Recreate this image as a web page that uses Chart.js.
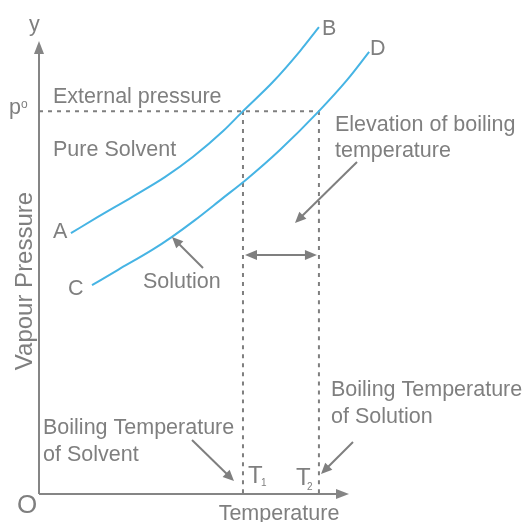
<!DOCTYPE html>
<html><head><meta charset="utf-8">
<script src="https://cdn.jsdelivr.net/npm/chart.js@4"></script>
<style>html,body{margin:0;padding:0;background:#fff}#wrap{width:524px;height:522px}</style>
</head><body><div id="wrap"><canvas id="c" width="524" height="522"></canvas></div>
<script>
// Temperature (x) and vapour pressure (y) in arbitrary units, 0..100 along the drawn axes
const pureSolventT = [10.3, 19.0, 30.0, 40.6, 49.7, 59.4, 65.8, 75.5, 84.2, 90.3];
const pureSolventP = [57.7, 61.3, 65.7, 70.1, 74.6, 80.3, 84.7, 91.2, 98.0, 103.3];
const solutionT = [17.1, 25.5, 36.5, 42.9, 50.3, 59.0, 67.1, 77.7, 90.3, 99.4, 106.5];
const solutionP = [46.2, 49.6, 54.0, 56.9, 60.6, 65.3, 69.7, 76.1, 84.7, 91.6, 97.8];
const externalPressure = 84.7;   // p°
const boilingT1 = 65.8;          // pure solvent boils
const boilingT2 = 90.3;          // solution boils
const axisMax = 100;

const BLUE = '#46b4e4';
const GREY = '#7f7f7f';
const AXIS = '#858585';

const toPts = (xs, ys) => xs.map((x, i) => ({x, y: ys[i]}));

const lineDS = (data, color, width, dash) => ({
  data, showLine: true, borderColor: color, borderWidth: width, borderDash: dash || [],
  pointRadius: 0, fill: false, clip: false, cubicInterpolationMode: 'monotone'
});

function arrowHead(ctx, fx, fy, tx, ty, len, hw) {
  const a = Math.atan2(ty - fy, tx - fx);
  ctx.beginPath();
  ctx.moveTo(tx, ty);
  ctx.lineTo(tx - len * Math.cos(a) + hw * Math.sin(a), ty - len * Math.sin(a) - hw * Math.cos(a));
  ctx.lineTo(tx - len * Math.cos(a) - hw * Math.sin(a), ty - len * Math.sin(a) + hw * Math.cos(a));
  ctx.closePath();
  ctx.fill();
}
function arrow(ctx, fx, fy, tx, ty) {
  const a = Math.atan2(ty - fy, tx - fx);
  ctx.beginPath();
  ctx.moveTo(fx, fy);
  ctx.lineTo(tx - 6 * Math.cos(a), ty - 6 * Math.sin(a));
  ctx.stroke();
  arrowHead(ctx, fx, fy, tx, ty, 11, 5);
}

const annotations = {
  id: 'annotations',
  afterDraw(chart) {
    const ctx = chart.ctx;
    const xs = chart.scales.x, ys = chart.scales.y;
    const X = v => xs.getPixelForValue(v), Y = v => ys.getPixelForValue(v);
    ctx.save();
    // axis arrowheads
    ctx.fillStyle = AXIS;
    arrowHead(ctx, X(0), Y(0), X(0), Y(axisMax) - 1, 13, 5);
    arrowHead(ctx, X(0), Y(0), X(axisMax), Y(0), 13, 5);
    // annotation arrows
    ctx.strokeStyle = GREY; ctx.fillStyle = GREY; ctx.lineWidth = 2;
    const yMid = 255;
    const xa = X(boilingT1) + 2, xb = X(boilingT2) - 2;
    ctx.beginPath(); ctx.moveTo(xa + 6, yMid); ctx.lineTo(xb - 6, yMid); ctx.stroke();
    arrowHead(ctx, xb, yMid, xa, yMid, 12, 5);
    arrowHead(ctx, xa, yMid, xb, yMid, 12, 5);
    arrow(ctx, 357, 162, 295, 223);
    arrow(ctx, 203, 268, 172, 237);
    arrow(ctx, 192, 440, 234, 481);
    arrow(ctx, 353, 442, 321, 474);
    // texts
    ctx.fillStyle = GREY;
    ctx.textBaseline = 'alphabetic';
    ctx.textAlign = 'left';
    const F = s => s + 'px "Liberation Sans", Arial, sans-serif';
    ctx.font = F(21.5);
    ctx.fillText('External pressure', 53, 103);
    ctx.fillText('Pure Solvent', 53, 156);
    ctx.fillText('Elevation of boiling', 335, 131);
    ctx.fillText('temperature', 335, 157);
    ctx.fillText('Solution', 143, 288);
    ctx.fillText('Boiling Temperature', 43, 434);
    ctx.fillText('of Solvent', 43, 461);
    ctx.fillText('Boiling Temperature', 331, 396);
    ctx.fillText('of Solution', 331, 423);
    ctx.fillText('A', 53, 238);
    ctx.fillText('C', 68, 295);
    ctx.fillText('B', 322, 35);
    ctx.fillText('D', 370, 55);
    ctx.fillText('y', 29, 31);
    ctx.fillText('p', 9, 114);
    ctx.font = F(12);
    ctx.fillText('o', 21, 108);
    ctx.font = F(24);
    ctx.fillText('T', 248, 483);
    ctx.fillText('T', 296, 485);
    ctx.font = F(10);
    ctx.fillText('1', 261, 486);
    ctx.fillText('2', 307, 490);
    ctx.font = F(26);
    ctx.fillText('O', 17, 513);
    ctx.font = F(21.5);
    ctx.textAlign = 'center';
    ctx.fillText('Temperature', 279, 520);
    ctx.save();
    ctx.translate(32, 281);
    ctx.rotate(-Math.PI / 2);
    ctx.font = F(24);
    ctx.fillText('Vapour Pressure', 0, 0);
    ctx.restore();
    ctx.restore();
  }
};

new Chart(document.getElementById('c'), {
  type: 'scatter',
  data: {
    datasets: [
      lineDS(toPts(pureSolventT, pureSolventP), BLUE, 2),
      lineDS(toPts(solutionT, solutionP), BLUE, 2),
      lineDS([{x: 0, y: externalPressure}, {x: boilingT2, y: externalPressure}], GREY, 2, [4, 5]),
      lineDS([{x: boilingT1, y: externalPressure}, {x: boilingT1, y: 0}], GREY, 2, [4, 5]),
      lineDS([{x: boilingT2, y: externalPressure}, {x: boilingT2, y: 0}], GREY, 2, [4, 5]),
      lineDS([{x: 0, y: 0}, {x: axisMax - 3, y: 0}], AXIS, 2),
      lineDS([{x: 0, y: 0}, {x: 0, y: axisMax - 2}], AXIS, 2)
    ]
  },
  options: {
    responsive: false, animation: false, events: [],
    layout: {padding: {left: 39, right: 175, top: 42, bottom: 28}},
    plugins: {legend: {display: false}, tooltip: {enabled: false}},
    scales: {
      x: {type: 'linear', display: false, min: 0, max: axisMax},
      y: {type: 'linear', display: false, min: 0, max: axisMax}
    }
  },
  plugins: [annotations]
});
</script>
</body></html>
